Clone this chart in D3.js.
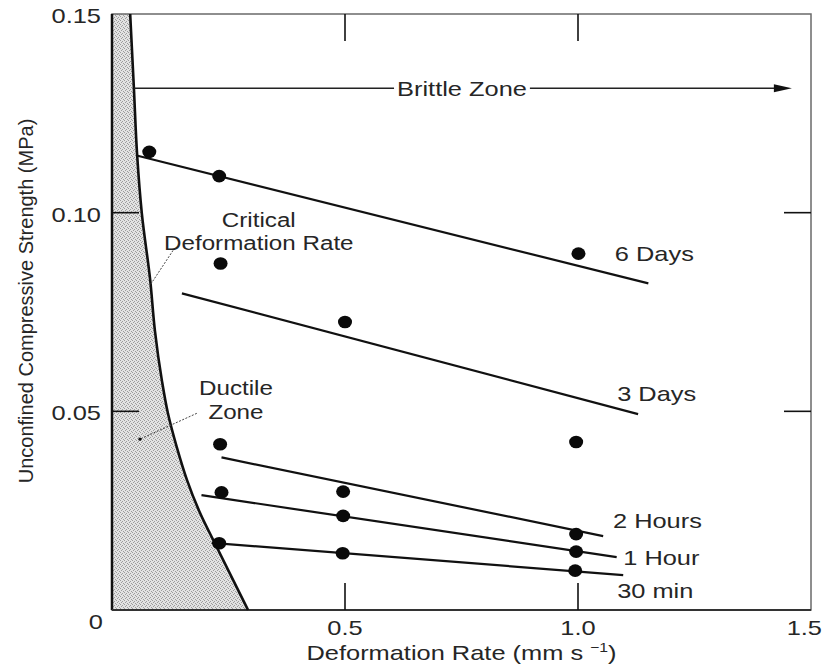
<!DOCTYPE html>
<html>
<head>
<meta charset="utf-8">
<script src="https://cdn.jsdelivr.net/npm/d3@7"></script>
<style>
  html, body { margin: 0; padding: 0; background: #fff; }
  text { font-family: "Liberation Sans", Arial, Helvetica, sans-serif; fill: #262626; }
</style>
</head>
<body>
<svg id="chart" width="825" height="670"></svg>
<script>
// ---- axis ticks ----
const xTickValues = [0.5, 1.0, 1.5];
const xTickLabels = ["0.5", "1.0", "1.5"];
const yTickValues = [0, 0.05, 0.10, 0.15];
const yTickLabels = ["0", "0.05", "0.10", "0.15"];

// ---- curing-time series (deformation rate mm/s, strength MPa) ----
const seriesNames = ["6 Days", "3 Days", "2 Hours", "1 Hour", "30 min"];
const pointRates = [
  [0.080, 0.230, 1.001],
  [0.233, 0.500, 0.996],
  [0.232, 0.496, 0.996],
  [0.235, 0.496, 0.996],
  [0.230, 0.495, 0.994]
];
const pointStrengths = [
  [0.1153, 0.1092, 0.0897],
  [0.0872, 0.0725, 0.0423],
  [0.0417, 0.0298, 0.0191],
  [0.0296, 0.0237, 0.0147],
  [0.0168, 0.0143, 0.0099]
];
// fitted trend lines: start and end
const fitRates = [
  [0.053, 1.151],
  [0.150, 1.129],
  [0.235, 1.054],
  [0.192, 1.083],
  [0.214, 1.097]
];
const fitStrengths = [
  [0.1144, 0.0822],
  [0.0797, 0.0493],
  [0.0384, 0.0186],
  [0.0289, 0.0133],
  [0.0169, 0.0088]
];
// where each series name sits
const labelRates = [1.079, 1.084, 1.075, 1.097, 1.084];
const labelStrengths = [0.0898, 0.0546, 0.0226, 0.0133, 0.0050];

// ---- critical deformation rate boundary ----
const criticalRates = [0.039, 0.047, 0.054, 0.064, 0.082, 0.092, 0.107, 0.120, 0.139, 0.161, 0.189, 0.225, 0.260, 0.292];
const criticalStrengths = [0.150, 0.1313, 0.1144, 0.0998, 0.0830, 0.0704, 0.0578, 0.0495, 0.0410, 0.0327, 0.0244, 0.0158, 0.0075, 0.0];

// ---- annotations ----
const brittleLevel = 0.1313;
const brittleLabelRate = 0.751;
const brittleArrowEnd = 1.459;
const criticalLabel = { rate: 0.315, lines: ["Critical", "Deformation Rate"], strengths: [0.0981, 0.0923] };
const criticalLeader = { from: [0.131, 0.0905], to: [0.0815, 0.0817] };
const ductileLabel = { rate: 0.266, lines: ["Ductile", "Zone"], strengths: [0.0558, 0.0500] };
const ductileLeader = { from: [0.182, 0.0495], to: [0.060, 0.0430] };

// ---- layout ----
const svg = d3.select("#chart");
const x = d3.scaleLinear().domain([0, 1.5]).range([112, 811]);
const y = d3.scaleLinear().domain([0, 0.15]).range([610, 14]);
const TICK = 27;
const SX = 1.21;      // horizontal stretch of the lettering
const FS = 21;

svg.append("rect").attr("width", 825).attr("height", 670).attr("fill", "#fff");

// stippled fill for the ductile zone
const defs = svg.append("defs");
const pat = defs.append("pattern").attr("id", "stipple")
  .attr("patternUnits", "userSpaceOnUse").attr("width", 4).attr("height", 4);
pat.append("rect").attr("width", 4).attr("height", 4).attr("fill", "#e3e3e3");
[[0, 0], [2, 1], [1, 2], [3, 3]].forEach(([px, py]) =>
  pat.append("rect").attr("x", px).attr("y", py).attr("width", 1).attr("height", 1).attr("fill", "#9c9c9c"));

function label(parent, px, py, str, anchor = "start", size = FS) {
  const t = parent.append("g")
    .attr("transform", `translate(${px},${py}) scale(${SX},1)`)
    .append("text")
    .attr("text-anchor", anchor)
    .attr("dy", "0.36em")
    .style("font-size", size + "px")
    .text(str);
  return t;
}

const critical = criticalRates.map((r, i) => ({ r, s: criticalStrengths[i] }));

// ductile zone
svg.append("path")
  .datum(critical)
  .attr("d", d3.area()
    .y(d => y(d.s))
    .x0(x(0))
    .x1(d => x(d.r))
    .curve(d3.curveMonotoneY))
  .attr("fill", "url(#stipple)");

// frame
svg.append("rect")
  .attr("x", x(0)).attr("y", y(0.15))
  .attr("width", x(1.5) - x(0)).attr("height", y(0) - y(0.15))
  .attr("fill", "none").attr("stroke", "#6a6a6a").attr("stroke-width", 1.5);
svg.append("line")
  .attr("x1", x(0)).attr("x2", x(0)).attr("y1", y(0.15)).attr("y2", y(0))
  .attr("stroke", "#111").attr("stroke-width", 2.5);
svg.append("line")
  .attr("x1", x(0)).attr("x2", x(1.5)).attr("y1", y(0)).attr("y2", y(0))
  .attr("stroke", "#333").attr("stroke-width", 2);

// inward ticks on all four sides
const ticks = svg.append("g").attr("stroke", "#111").attr("stroke-width", 1.6);
xTickValues.filter(v => v < 1.5).forEach(v => {
  ticks.append("line").attr("x1", x(v)).attr("x2", x(v)).attr("y1", y(0)).attr("y2", y(0) - TICK);
  ticks.append("line").attr("x1", x(v)).attr("x2", x(v)).attr("y1", y(0.15)).attr("y2", y(0.15) + TICK);
});
yTickValues.filter(v => v > 0 && v < 0.15).forEach(v => {
  ticks.append("line").attr("x1", x(0)).attr("x2", x(0) + TICK).attr("y1", y(v)).attr("y2", y(v));
  ticks.append("line").attr("x1", x(1.5)).attr("x2", x(1.5) - TICK).attr("y1", y(v)).attr("y2", y(v));
});

// tick labels
const tl = svg.append("g");
yTickValues.forEach((v, i) => {
  if (v === 0) label(tl, x(0) - 9, y(0) + 11, yTickLabels[i], "end");
  else label(tl, x(0) - 11, y(v) + 1.5, yTickLabels[i], "end");
});
xTickValues.forEach((v, i) => {
  // the last label would run off the page if centred on its tick
  if (i === xTickValues.length - 1) label(tl, x(v) + 11, y(0) + 17, xTickLabels[i], "end");
  else label(tl, x(v), y(0) + 17, xTickLabels[i], "middle");
});

// axis titles
const xt = label(svg, (x(0) + x(1.5)) / 2, y(0) + 42, "", "middle");
xt.append("tspan").text("Deformation Rate (mm s ");
xt.append("tspan").attr("dy", -8).style("font-size", "13px").text("\u22121");
xt.append("tspan").attr("dy", 8).text(")");

svg.append("text")
  .attr("transform", `translate(33,301) rotate(-90)`)
  .attr("text-anchor", "middle")
  .style("font-size", "20px")
  .text("Unconfined Compressive Strength (MPa)");

// critical deformation rate curve
svg.append("path")
  .datum(critical)
  .attr("d", d3.line().x(d => x(d.r)).y(d => y(d.s)).curve(d3.curveMonotoneY))
  .attr("fill", "none").attr("stroke", "#111").attr("stroke-width", 2.6);

// brittle zone arrow
const bl = label(svg, x(brittleLabelRate), y(brittleLevel), "Brittle Zone", "middle");
const bw = bl.node().getComputedTextLength() * SX / 2 + 3;
const arr = svg.append("g").attr("stroke", "#222").attr("stroke-width", 1.4);
const startR = criticalRates[1];
arr.append("line").attr("x1", x(startR)).attr("x2", x(brittleLabelRate) - bw)
  .attr("y1", y(brittleLevel)).attr("y2", y(brittleLevel));
arr.append("line").attr("x1", x(brittleLabelRate) + bw).attr("x2", x(brittleArrowEnd) - 14)
  .attr("y1", y(brittleLevel)).attr("y2", y(brittleLevel));
svg.append("path")
  .attr("d", `M${x(brittleArrowEnd)},${y(brittleLevel)} L${x(brittleArrowEnd) - 18},${y(brittleLevel) - 4} L${x(brittleArrowEnd) - 18},${y(brittleLevel) + 4} Z`)
  .attr("fill", "#111");

// zone annotations with leader lines
[criticalLabel, ductileLabel].forEach(a =>
  a.lines.forEach((ln, i) => label(svg, x(a.rate), y(a.strengths[i]), ln, "middle", 20)));
[criticalLeader, ductileLeader].forEach(l =>
  svg.append("line")
    .attr("x1", x(l.from[0])).attr("y1", y(l.from[1]))
    .attr("x2", x(l.to[0])).attr("y2", y(l.to[1]))
    .attr("stroke", "#444").attr("stroke-width", 1).attr("stroke-dasharray", "2,1.5"));
svg.append("circle")
  .attr("cx", x(ductileLeader.to[0])).attr("cy", y(ductileLeader.to[1])).attr("r", 1.6).attr("fill", "#111");

// trend lines, measurements and series names
seriesNames.forEach((name, k) => {
  svg.append("line")
    .attr("x1", x(fitRates[k][0])).attr("y1", y(fitStrengths[k][0]))
    .attr("x2", x(fitRates[k][1])).attr("y2", y(fitStrengths[k][1]))
    .attr("stroke", "#111").attr("stroke-width", 2.2);
  pointRates[k].forEach((r, i) =>
    svg.append("ellipse")
      .attr("cx", x(r)).attr("cy", y(pointStrengths[k][i]))
      .attr("rx", 7).attr("ry", 6.3).attr("fill", "#0a0a0a"));
  label(svg, x(labelRates[k]), y(labelStrengths[k]), name, "start");
});
</script>
</body>
</html>
